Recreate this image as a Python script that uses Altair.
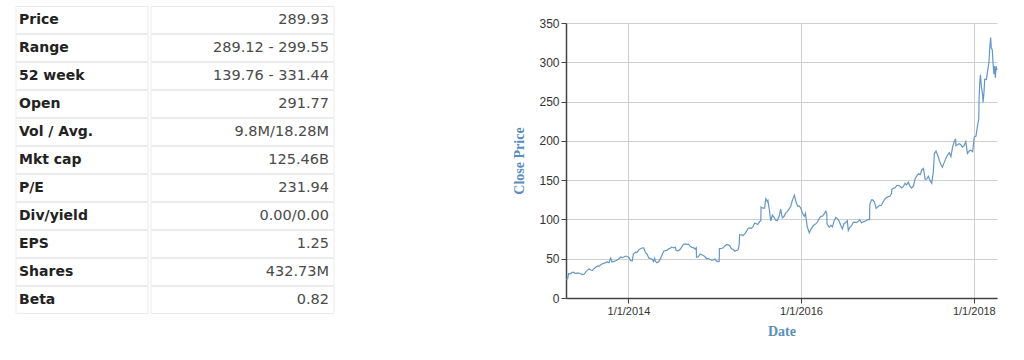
import altair as alt
import pandas as pd

# ---------------- table data ----------------
row_labels = ["Price", "Range", "52 week", "Open", "Vol / Avg.", "Mkt cap",
              "P/E", "Div/yield", "EPS", "Shares", "Beta"]
row_values = ["289.93", "289.12 - 299.55", "139.76 - 331.44", "291.77", "9.8M/18.28M",
              "125.46B", "231.94", "0.00/0.00", "1.25", "432.73M", "0.82"]

# ---------------- price series ----------------
d13 = ["2013-04-12", "2013-04-19", "2013-04-23", "2013-05-01", "2013-05-10", "2013-05-17", "2013-05-24",
       "2013-05-31", "2013-06-07", "2013-06-14", "2013-06-21", "2013-06-28", "2013-07-05", "2013-07-12",
       "2013-07-19", "2013-07-26", "2013-08-02", "2013-08-09", "2013-08-16", "2013-08-23", "2013-08-30",
       "2013-09-06", "2013-09-13", "2013-09-20", "2013-09-27", "2013-10-04", "2013-10-11", "2013-10-18",
       "2013-10-23", "2013-10-31", "2013-11-08", "2013-11-15", "2013-11-22", "2013-11-29", "2013-12-06",
       "2013-12-13", "2013-12-20", "2013-12-27"]
c13 = [24.0, 24.6, 31.0, 30.8, 32.8, 32.3, 31.0, 32.0, 31.5, 30.6, 30.1, 30.2, 33.4, 35.5, 37.0, 35.6,
       35.2, 37.4, 39.2, 40.5, 40.6, 42.4, 43.6, 44.0, 45.3, 46.0, 44.9, 50.8, 46.0, 46.2, 47.5, 48.3,
       50.0, 52.2, 51.5, 52.2, 53.4, 52.8]

d14 = ["2014-01-03", "2014-01-10", "2014-01-17", "2014-01-22", "2014-01-31", "2014-02-07", "2014-02-14",
       "2014-02-21", "2014-02-28", "2014-03-07", "2014-03-14", "2014-03-21", "2014-03-28", "2014-04-04",
       "2014-04-11", "2014-04-17", "2014-04-22", "2014-04-25", "2014-05-02", "2014-05-09", "2014-05-16",
       "2014-05-23", "2014-05-30", "2014-06-06", "2014-06-13", "2014-06-20", "2014-06-27", "2014-07-03",
       "2014-07-11", "2014-07-18", "2014-07-22", "2014-07-31", "2014-08-08", "2014-08-15", "2014-08-22",
       "2014-08-29", "2014-09-05", "2014-09-12", "2014-09-19", "2014-09-26", "2014-10-03", "2014-10-10",
       "2014-10-15", "2014-10-16", "2014-10-24", "2014-10-31", "2014-11-07", "2014-11-14", "2014-11-21",
       "2014-11-28", "2014-12-05", "2014-12-12", "2014-12-19", "2014-12-26"]
c14 = [51.6, 47.6, 47.1, 55.8, 58.3, 58.0, 61.3, 62.7, 63.6, 63.9, 58.0, 55.8, 51.0, 50.2, 49.6, 46.5,
       50.8, 46.7, 44.8, 46.0, 49.8, 54.6, 59.6, 60.2, 60.4, 62.5, 63.2, 64.9, 63.7, 64.8, 60.5, 60.1,
       62.0, 65.0, 68.4, 68.8, 67.9, 68.6, 66.0, 64.3, 64.2, 62.3, 63.9, 51.9, 52.5, 56.0, 55.0, 54.0,
       52.5, 49.9, 50.2, 49.0, 48.2, 48.5]

d15 = ["2015-01-02", "2015-01-09", "2015-01-16", "2015-01-20", "2015-01-21", "2015-01-30", "2015-02-06",
       "2015-02-13", "2015-02-20", "2015-02-27", "2015-03-06", "2015-03-13", "2015-03-20", "2015-03-27",
       "2015-04-03", "2015-04-10", "2015-04-15", "2015-04-16", "2015-04-24", "2015-05-01", "2015-05-08",
       "2015-05-15", "2015-05-22", "2015-05-29", "2015-06-05", "2015-06-12", "2015-06-19", "2015-06-26",
       "2015-07-02", "2015-07-10", "2015-07-15", "2015-07-16", "2015-07-24", "2015-07-31", "2015-08-05",
       "2015-08-12", "2015-08-14", "2015-08-21", "2015-08-24", "2015-08-26", "2015-09-02", "2015-09-09",
       "2015-09-16", "2015-09-23", "2015-09-30", "2015-10-07", "2015-10-14", "2015-10-21", "2015-10-28",
       "2015-11-04", "2015-11-11", "2015-11-18", "2015-11-25", "2015-12-04", "2015-12-11", "2015-12-18",
       "2015-12-24", "2015-12-31"]
c15 = [49.6, 46.9, 46.3, 46.7, 62.8, 63.0, 63.9, 66.4, 68.0, 67.7, 66.2, 62.5, 62.0, 59.5, 60.4, 61.3,
       68.8, 80.4, 80.4, 79.5, 81.5, 84.7, 88.5, 89.2, 88.6, 90.7, 95.4, 94.6, 93.6, 97.3, 98.1, 115.8,
       114.3, 114.3, 126.3, 122.7, 124.0, 110.7, 103.0, 98.0, 105.5, 102.7, 99.0, 98.6, 103.3, 113.0,
       102.0, 103.6, 108.0, 110.0, 113.0, 116.0, 124.0, 130.9, 122.1, 117.0, 117.3, 114.4]

d16 = ["2016-01-08", "2016-01-15", "2016-01-20", "2016-01-27", "2016-02-05", "2016-02-12", "2016-02-19",
       "2016-02-26", "2016-03-04", "2016-03-11", "2016-03-18", "2016-03-25", "2016-04-01", "2016-04-08",
       "2016-04-15", "2016-04-19", "2016-04-20", "2016-04-29", "2016-05-06", "2016-05-13", "2016-05-20",
       "2016-05-27", "2016-06-03", "2016-06-10", "2016-06-17", "2016-06-24", "2016-07-01", "2016-07-08",
       "2016-07-15", "2016-07-19", "2016-07-26", "2016-08-02", "2016-08-09", "2016-08-16", "2016-08-23",
       "2016-08-30", "2016-09-06", "2016-09-13", "2016-09-20", "2016-09-27", "2016-10-04", "2016-10-11",
       "2016-10-17", "2016-10-18", "2016-10-25", "2016-10-31", "2016-11-07", "2016-11-14", "2016-11-21",
       "2016-11-28", "2016-12-05", "2016-12-12", "2016-12-19", "2016-12-27"]
c16 = [107.1, 104.0, 107.7, 91.2, 82.8, 87.4, 90.9, 93.4, 94.4, 97.0, 101.1, 103.9, 104.0, 107.0,
       110.5, 107.5, 94.3, 90.0, 92.5, 90.6, 98.0, 102.6, 101.0, 98.0, 92.5, 88.0, 95.0, 95.9, 98.4,
       85.8, 90.0, 92.0, 96.0, 96.5, 96.0, 97.5, 99.5, 95.6, 97.0, 97.5, 99.0, 99.8, 99.8, 118.8, 125.0,
       124.9, 122.0, 114.0, 116.0, 118.0, 117.5, 121.5, 125.3, 127.5]

d17 = ["2017-01-04", "2017-01-11", "2017-01-18", "2017-01-19", "2017-01-26", "2017-02-02", "2017-02-09",
       "2017-02-16", "2017-02-23", "2017-03-02", "2017-03-09", "2017-03-16", "2017-03-23", "2017-03-30",
       "2017-04-06", "2017-04-13", "2017-04-21", "2017-04-28", "2017-05-05", "2017-05-12", "2017-05-19",
       "2017-05-26", "2017-06-02", "2017-06-09", "2017-06-16", "2017-06-23", "2017-06-30", "2017-07-07",
       "2017-07-14", "2017-07-18", "2017-07-25", "2017-08-01", "2017-08-08", "2017-08-15", "2017-08-21",
       "2017-08-28", "2017-09-05", "2017-09-12", "2017-09-19", "2017-09-26", "2017-10-03", "2017-10-10",
       "2017-10-16", "2017-10-17", "2017-10-24", "2017-10-31", "2017-11-07", "2017-11-14", "2017-11-21",
       "2017-11-28", "2017-12-05", "2017-12-12", "2017-12-19", "2017-12-27"]
c17 = [129.0, 129.5, 133.3, 138.4, 139.5, 140.4, 143.2, 143.4, 142.3, 140.0, 142.0, 146.0, 144.0,
       147.4, 142.0, 140.0, 143.0, 152.2, 155.5, 158.0, 157.0, 163.0, 165.0, 151.0, 151.5, 154.9,
       149.4, 146.0, 161.7, 183.6, 187.0, 182.0, 175.0, 170.0, 166.5, 172.0, 178.0, 182.0, 185.0,
       180.0, 192.0, 199.0, 202.7, 194.0, 195.0, 196.4, 195.0, 192.0, 194.0, 199.0, 184.0, 187.0,
       188.0, 186.2]

d18 = ["2018-01-03", "2018-01-10", "2018-01-17", "2018-01-22", "2018-01-23", "2018-01-26", "2018-01-29",
       "2018-02-02", "2018-02-07", "2018-02-09", "2018-02-13", "2018-02-16", "2018-02-23", "2018-03-01",
       "2018-03-06", "2018-03-09", "2018-03-13", "2018-03-16", "2018-03-20", "2018-03-23", "2018-03-27",
       "2018-03-29", "2018-04-02", "2018-04-05", "2018-04-09"]
c18 = [205.0, 206.0, 220.0, 227.6, 250.3, 274.0, 284.0, 269.0, 259.0, 249.0, 262.0, 278.5, 278.0,
       290.0, 300.0, 316.0, 331.4, 318.0, 316.0, 300.0, 285.0, 295.3, 280.3, 295.0, 289.9]

x_tick_dates = [alt.DateTime(year=2014, month=1, date=1),
                alt.DateTime(year=2016, month=1, date=1),
                alt.DateTime(year=2018, month=1, date=1)]
y_ticks = [0, 50, 100, 150, 200, 250, 300, 350]

dates = d13 + d14 + d15 + d16 + d17 + d18
closes = c13 + c14 + c15 + c16 + c17 + c18

table_df = pd.DataFrame({"row": list(range(len(row_labels))), "label": row_labels, "value": row_values})
price_df = pd.DataFrame({"date": dates, "close": closes})

# ---------------- table panel ----------------
row_scale = alt.Scale(domain=[0, len(row_labels)], range=[-17, 291])
tbase = alt.Chart(table_df).transform_calculate(
    top="datum.row + 0.02", bottom="datum.row + 0.98", mid="datum.row + 0.5"
)
y_top = alt.Y("top:Q", scale=row_scale, axis=None)
y_mid = alt.Y("mid:Q", scale=row_scale, axis=None)

cells_l = tbase.mark_rect(fill="white", stroke="#ebebeb", strokeWidth=1).encode(
    x=alt.value(0), x2=alt.value(132), y=y_top, y2="bottom:Q")
cells_r = tbase.mark_rect(fill="white", stroke="#ebebeb", strokeWidth=1).encode(
    x=alt.value(135), x2=alt.value(318), y=y_top, y2="bottom:Q")
text_l = tbase.mark_text(align="left", baseline="middle", font="DejaVu Sans",
                         fontWeight="bold", fontSize=14, color="#222222").encode(
    x=alt.value(3), y=y_mid, text="label:N")
text_r = tbase.mark_text(align="right", baseline="middle", font="DejaVu Sans",
                         fontSize=14.5, color="#4a4a4a").encode(
    x=alt.value(313), y=y_mid, text="value:N")

table = alt.layer(cells_l, cells_r, text_l, text_r).properties(width=318, height=275)

# ---------------- line panel ----------------
line = alt.Chart(price_df).mark_line(color="#6497c8", strokeWidth=1.2).encode(
    x=alt.X("date:T", title="Date",
            axis=alt.Axis(values=x_tick_dates, format="%-m/%-d/%Y", labelFontSize=11,
                          titlePadding=8)),
    y=alt.Y("close:Q", title="Close Price", scale=alt.Scale(domain=[0, 350]),
            axis=alt.Axis(values=y_ticks, labelFontSize=12, titlePadding=12)),
).properties(width=431, height=275)

chart = alt.hconcat(table, line, spacing=232, bounds="flush").properties(
    padding={"left": 15, "top": 6, "right": 10, "bottom": 5}
).configure_view(stroke=None).configure_axis(
    domainColor="#444444", domainWidth=1.5, tickColor="#444444", tickSize=5,
    gridColor="#cfcfcf", gridWidth=1, labelColor="#333333", labelFont="Liberation Sans",
    titleFont="Liberation Serif", titleFontSize=14, titleFontWeight="bold", titleColor="#5a8dbd"
)

chart.save("out.html", embed_options={"renderer": "svg", "actions": False})
